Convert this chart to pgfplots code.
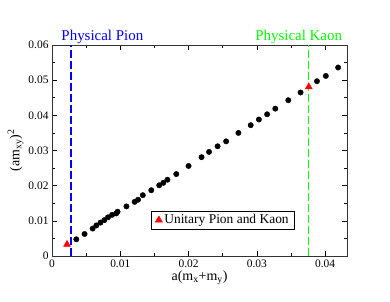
\documentclass[border=0pt]{standalone}
\usepackage{fontspec}
\setmainfont{Liberation Serif}
\usepackage{pgfplots}
\pgfplotsset{compat=1.18}
\begin{document}
\begin{tikzpicture}
\begin{axis}[
  scale only axis, width=295bp, height=211bp,
  xmin=0, xmax=0.0432, ymin=0, ymax=0.06,
  scaled ticks=false,
  xtick={0,0.01,0.02,0.03,0.04},
  ytick={0,0.01,0.02,0.03,0.04,0.05,0.06},
  minor x tick num=1, minor y tick num=1,
  xticklabels={0,0.01,0.02,0.03,0.04},
  yticklabels={0,0.01,0.02,0.03,0.04,0.05,0.06},
  tick align=inside,
  major tick length=5bp, minor tick length=3bp,
  tick style={black, line width=0.6pt},
  axis line style={line width=0.8pt, black!80},
  ticklabel style={font=\fontsize{11.5}{12}\selectfont},
  xlabel={a(m\textsubscript{x}+m\textsubscript{y})},
  ylabel={(am\textsubscript{xy})\textsuperscript{2}},
  label style={font=\fontsize{14}{16}\selectfont},
  xlabel style={yshift=3bp},
  ylabel style={yshift=-2bp},
  legend style={at={(0.336,0.127)}, anchor=south west, draw=black, line width=0.6pt,
    font=\fontsize{13.5}{14}\selectfont, inner xsep=4pt, inner ysep=1.5pt, row sep=0pt},
  legend cell align=left,
  clip=false,
]
\addplot[only marks, mark=*, mark size=2.7bp, black, forget plot] coordinates {
(0.00356,0.00475) (0.00477,0.00626) (0.00595,0.0078) (0.0065,0.0087) (0.0071,0.0095)
(0.00766,0.0102) (0.0082,0.011) (0.0088,0.0117) (0.0094,0.0121) (0.0096,0.0126)
(0.0109,0.0141) (0.0121,0.0154) (0.0126,0.016) (0.0133,0.0173) (0.01454,0.0187)
(0.0157,0.0201) (0.0163,0.0208) (0.0169,0.0217) (0.0182,0.0233) (0.0200,0.0256)
(0.0219,0.0281) (0.0230,0.0296) (0.02425,0.0312) (0.0255,0.0326) (0.0273,0.0350)
(0.0291,0.0372) (0.0303,0.0388) (0.0315,0.0403) (0.0327,0.0419) (0.0346,0.0443)
(0.0364,0.0465) (0.0388,0.0497) (0.0401,0.0512) (0.0419,0.0536)
};
\addplot[no marks, blue, line width=1.2pt, dash pattern=on 8bp off 3bp, forget plot] coordinates {(0.00278,0) (0.00278,0.06)};
\addplot[no marks, green, line width=1.2pt, dash pattern=on 8bp off 3bp, forget plot] coordinates {(0.03757,0) (0.03757,0.06)};
\addplot[only marks, mark=triangle*, mark size=4bp, red] coordinates {(0.0022,0.0033) (0.0376,0.0481)};
\addlegendentry{Unitary Pion and Kaon}
\node[anchor=base west, blue, font=\fontsize{15}{16}\selectfont, inner sep=0pt] at (rel axis cs:0.0315,1) [yshift=5bp] {Physical Pion};
\node[anchor=base east, green, font=\fontsize{15}{16}\selectfont, inner sep=0pt] at (rel axis cs:0.984,1) [yshift=5bp] {Physical Kaon};
\end{axis}
\useasboundingbox (-52bp,-46bp) rectangle (338bp,256bp);
\end{tikzpicture}
\end{document}
